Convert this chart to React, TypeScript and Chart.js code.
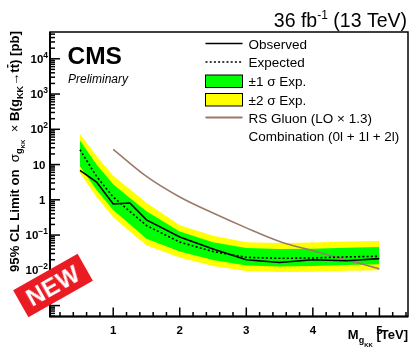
import React, { useEffect, useRef } from 'react';
import { Chart, registerables } from 'chart.js';

Chart.register(...registerables);

// ---- data ----
const massPoints = [0.5, 0.75, 1.0, 1.25, 1.5, 2.0, 2.5, 3.0, 3.5, 4.0, 4.5, 5.0];
const observed = [6.8, 3.2, 0.76, 0.81, 0.27, 0.088, 0.04, 0.02, 0.0166, 0.02, 0.0186, 0.0214];
const expected = [26.3, 4.6, 1.2, 0.47, 0.186, 0.063, 0.034, 0.0234, 0.0219, 0.0224, 0.024, 0.025];
const green1Hi = [48, 10, 2.75, 1.12, 0.47, 0.126, 0.063, 0.0427, 0.04, 0.041, 0.0437, 0.0457];
const green1Lo = [8.9, 1.9, 0.51, 0.204, 0.079, 0.034, 0.0195, 0.0138, 0.0129, 0.0132, 0.0141, 0.0148];
const yellow2Hi = [74, 17.4, 4.8, 2.0, 0.83, 0.19, 0.095, 0.063, 0.06, 0.062, 0.066, 0.068];
const yellow2Lo = [5.8, 1.2, 0.32, 0.126, 0.051, 0.023, 0.0132, 0.0095, 0.0089, 0.0091, 0.0098, 0.01];
const rsMass = [1.0, 1.5, 2.0, 2.5, 3.0, 3.5, 4.0, 4.5, 5.0];
const rsGluon = [27, 4.6, 1.2, 0.42, 0.16, 0.066, 0.036, 0.02, 0.011];

const xTickValues = [1, 2, 3, 4, 5];
const xTickLabels = ['1', '2', '3', '4', '5'];
const yTickValues = [1e-3, 1e-2, 1e-1, 1, 10, 100, 1e3, 1e4];
const yTickLabels = ['10^−3', '10^−2', '10^−1', '1', '10', '10^2', '10^3', '10^4'];
const legendLabels = ['Observed', 'Expected', '±1 σ Exp.', '±2 σ Exp.', 'RS Gluon (LO × 1.3)', 'Combination (0l + 1l + 2l)'];

const X_MIN = 0.05;
const X_MAX = 5.43;
const Y_MIN = 4.9e-4;
const Y_MAX = 5.75e4;

const GREEN = '#00ff00';
const YELLOW = '#ffff00';
const BROWN = '#9c7a68';
const FONT = '"Liberation Sans", Arial, Helvetica, sans-serif';

type Seg = { t: string; size: number; dy?: number; bold?: boolean; italic?: boolean; over?: boolean };

function segFont(s: Seg) {
  return `${s.italic ? 'italic ' : ''}${s.bold ? 'bold ' : ''}${s.size}px ${FONT}`;
}
function richWidth(ctx: CanvasRenderingContext2D, segs: Seg[]) {
  let w = 0;
  for (const s of segs) {
    ctx.font = segFont(s);
    w += ctx.measureText(s.t).width;
  }
  return w;
}
function drawRich(ctx: CanvasRenderingContext2D, segs: Seg[], x: number, y: number, align: 'left' | 'right' | 'center') {
  const w = richWidth(ctx, segs);
  let cx = align === 'left' ? x : align === 'right' ? x - w : x - w / 2;
  ctx.textAlign = 'left';
  ctx.textBaseline = 'alphabetic';
  for (const s of segs) {
    ctx.font = segFont(s);
    const sw = ctx.measureText(s.t).width;
    ctx.fillText(s.t, cx, y + (s.dy || 0));
    if (s.over) {
      ctx.save();
      ctx.lineWidth = 1.2;
      ctx.beginPath();
      const oy = y + (s.dy || 0) - s.size * 0.82;
      ctx.moveTo(cx + 0.5, oy);
      ctx.lineTo(cx + sw - 0.5, oy);
      ctx.stroke();
      ctx.restore();
    }
    cx += sw;
  }
}

const rootPlugin = {
  id: 'rootStyle',
  afterDraw(chart: any) {
    const ctx: CanvasRenderingContext2D = chart.ctx;
    const xs = chart.scales.x;
    const ys = chart.scales.y;
    const { left, right, top, bottom } = chart.chartArea;
    ctx.save();
    ctx.fillStyle = '#000';
    ctx.strokeStyle = '#000';

    // frame
    ctx.lineWidth = 1.5;
    ctx.strokeRect(left, top, right - left, bottom - top);
    ctx.lineWidth = 2;
    ctx.beginPath();
    ctx.moveTo(left, top);
    ctx.lineTo(left, bottom);
    ctx.lineTo(right, bottom);
    ctx.stroke();

    // y ticks (log)
    ctx.lineWidth = 1.5;
    for (let n = -4; n <= 5; n++) {
      for (let k = 1; k <= 9; k++) {
        const v = k * Math.pow(10, n);
        if (v < Y_MIN || v > Y_MAX) continue;
        const py = ys.getPixelForValue(v);
        const len = k === 1 ? 10 : 5;
        ctx.beginPath();
        ctx.moveTo(left, py);
        ctx.lineTo(left + len, py);
        ctx.stroke();
      }
    }
    // x ticks
    for (let i = 1; i <= 27; i++) {
      const v = i * 0.2;
      if (v < X_MIN || v > X_MAX) continue;
      const px = xs.getPixelForValue(v);
      const major = i % 5 === 0;
      const len = major ? 9 : 4.5;
      ctx.beginPath();
      ctx.moveTo(px, bottom);
      ctx.lineTo(px, bottom - len);
      ctx.stroke();
    }

    // y tick labels
    yTickValues.forEach((v, i) => {
      const py = ys.getPixelForValue(v);
      const lab = yTickLabels[i];
      const parts = lab.split('^');
      if (parts.length === 2) {
        drawRich(ctx, [
          { t: parts[0], size: 11.5, bold: true },
          { t: parts[1], size: 8.5, bold: true, dy: -5 },
        ], 48, py + 4, 'right');
      } else {
        drawRich(ctx, [{ t: parts[0], size: 11.5, bold: true }], 45.5, py + 4, 'right');
      }
    });
    // x tick labels
    xTickValues.forEach((v, i) => {
      const px = xs.getPixelForValue(v);
      drawRich(ctx, [{ t: xTickLabels[i], size: 11.5, bold: true }], px, 333.5, 'center');
    });

    // x axis title
    drawRich(ctx, [
      { t: 'M', size: 13, bold: true },
      { t: 'g', size: 9, bold: true, dy: 4 },
      { t: 'KK', size: 6, bold: true, dy: 8 },
      { t: ' [TeV]', size: 13, bold: true },
    ], 408, 339, 'right');

    // y axis title (rotated)
    const ySegs: Seg[] = [
      { t: '95% CL Limit on  ', size: 13, bold: true },
      { t: 'σ', size: 13 },
      { t: 'g', size: 9, bold: true, dy: 3 },
      { t: 'KK', size: 6, bold: true, dy: 6 },
      { t: '  × ', size: 13 },
      { t: 'B(g', size: 13, bold: true },
      { t: 'KK', size: 9, bold: true, dy: 4 },
      { t: '→t', size: 13, bold: true },
      { t: 't', size: 13, bold: true, over: true },
      { t: ') [pb]', size: 13, bold: true },
    ];
    const yw = richWidth(ctx, ySegs);
    const yStart = 272;
    const yEnd = 31;
    const sc = (yStart - yEnd) / yw;
    ctx.save();
    ctx.translate(18.5, yStart);
    ctx.rotate(-Math.PI / 2);
    ctx.scale(sc, sc);
    drawRich(ctx, ySegs, 0, 0, 'left');
    ctx.restore();

    // top title
    drawRich(ctx, [
      { t: '36 fb', size: 19.5 },
      { t: '-1', size: 12, dy: -8 },
      { t: ' (13 TeV)', size: 19.5 },
    ], 407, 27, 'right');

    // CMS / Preliminary
    drawRich(ctx, [{ t: 'CMS', size: 24.5, bold: true }], 67.5, 64, 'left');
    drawRich(ctx, [{ t: 'Preliminary', size: 12, italic: true }], 68, 82.5, 'left');

    // legend
    const lx0 = 205.5;
    const lx1 = 242.5;
    const tx = 248.5;
    const rows = [43.5, 62, 81, 99.5, 117.5, 136];
    // observed
    ctx.strokeStyle = '#000';
    ctx.lineWidth = 1.6;
    ctx.beginPath(); ctx.moveTo(lx0, rows[0]); ctx.lineTo(lx1, rows[0]); ctx.stroke();
    // expected dotted
    ctx.setLineDash([2, 2.2]);
    ctx.beginPath(); ctx.moveTo(lx0, rows[1]); ctx.lineTo(lx1, rows[1]); ctx.stroke();
    ctx.setLineDash([]);
    // boxes
    ctx.lineWidth = 1;
    ctx.fillStyle = GREEN;
    ctx.fillRect(lx0, rows[2] - 6, lx1 - lx0, 12.5);
    ctx.strokeRect(lx0, rows[2] - 6, lx1 - lx0, 12.5);
    ctx.fillStyle = YELLOW;
    ctx.fillRect(lx0, rows[3] - 6, lx1 - lx0, 12.5);
    ctx.strokeRect(lx0, rows[3] - 6, lx1 - lx0, 12.5);
    // RS gluon
    ctx.strokeStyle = BROWN;
    ctx.lineWidth = 2;
    ctx.beginPath(); ctx.moveTo(lx0, rows[4]); ctx.lineTo(lx1, rows[4]); ctx.stroke();
    ctx.fillStyle = '#000';
    legendLabels.forEach((lab, i) => {
      drawRich(ctx, [{ t: lab, size: 13.5 }], tx, rows[i] + 5, 'left');
    });

    ctx.restore();
  },
};

function pts(xv: number[], yv: number[]) {
  return xv.map((x, i) => ({ x, y: yv[i] }));
}

export default function App() {
  const ref = useRef<HTMLCanvasElement | null>(null);
  useEffect(() => {
    if (!ref.current) return;
    const chart = new Chart(ref.current, {
      type: 'line',
      data: {
        datasets: [
          { label: '±2 σ hi', data: pts(massPoints, yellow2Hi), fill: '+1', backgroundColor: YELLOW, borderWidth: 0, pointRadius: 0, order: 10 } as any,
          { label: '±2 σ lo', data: pts(massPoints, yellow2Lo), fill: false, borderWidth: 0, pointRadius: 0, order: 10 } as any,
          { label: '±1 σ hi', data: pts(massPoints, green1Hi), fill: '+1', backgroundColor: GREEN, borderWidth: 0, pointRadius: 0, order: 9 } as any,
          { label: '±1 σ lo', data: pts(massPoints, green1Lo), fill: false, borderWidth: 0, pointRadius: 0, order: 9 } as any,
          { label: 'RS Gluon', data: pts(rsMass, rsGluon), borderColor: BROWN, borderWidth: 1.6, pointRadius: 0, fill: false, cubicInterpolationMode: 'monotone', order: 3 } as any,
          { label: 'Expected', data: pts(massPoints, expected), borderColor: '#000', borderWidth: 1.6, borderDash: [2, 2.2], pointRadius: 0, fill: false, order: 2 } as any,
          { label: 'Observed', data: pts(massPoints, observed), borderColor: '#000', borderWidth: 1.6, pointRadius: 0, fill: false, order: 1 } as any,
        ],
      },
      options: {
        animation: false,
        responsive: false,
        maintainAspectRatio: false,
        devicePixelRatio: 1,
        layout: { padding: { left: 50, top: 32, right: 2, bottom: 30.5 } },
        plugins: { legend: { display: false }, tooltip: { enabled: false }, title: { display: false } },
        elements: { line: { tension: 0 } },
        scales: {
          x: { type: 'linear', min: X_MIN, max: X_MAX, display: false },
          y: { type: 'logarithmic', min: Y_MIN, max: Y_MAX, display: false },
        },
      },
      plugins: [rootPlugin],
    } as any);
    return () => chart.destroy();
  }, []);

  return (
    <div style={{ position: 'fixed', left: 0, top: 0, width: 410, height: 347, background: '#fff', overflow: 'hidden' }}>
      <canvas ref={ref} width={410} height={347} style={{ width: 410, height: 347, display: 'block' }} />
      <div
        style={{
          position: 'absolute',
          left: 53.25 - 37,
          top: 285.25 - 15.5,
          width: 74,
          height: 31,
          background: '#ea1b22',
          color: '#fff',
          transform: 'rotate(-29.4deg)',
          display: 'flex',
          alignItems: 'center',
          justifyContent: 'center',
          fontFamily: FONT,
          fontWeight: 'bold',
          fontSize: 24,
          lineHeight: '31px',
          letterSpacing: 0.5,
        }}
      >
        NEW
      </div>
    </div>
  );
}
